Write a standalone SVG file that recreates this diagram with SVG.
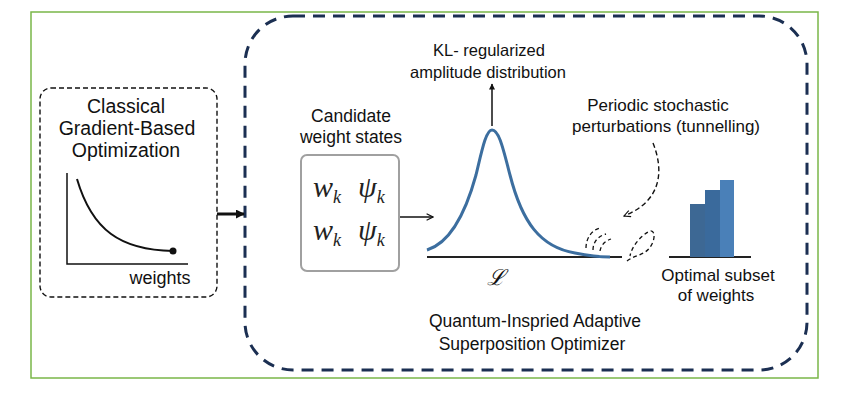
<svg xmlns="http://www.w3.org/2000/svg" width="854" height="399" viewBox="0 0 854 399">
<defs>
<style>
.t{font-family:"Liberation Sans",Arial,sans-serif;fill:#111;text-anchor:middle}
.m{font-family:"Liberation Serif","Times New Roman",serif;font-style:italic;fill:#222}
.ln{fill:none;stroke:#111;stroke-width:1.5}
.dash{fill:none;stroke:#111;stroke-width:1.3;stroke-dasharray:4 3}
</style>
<marker id="open" viewBox="0 0 10 10" refX="9" refY="5" markerWidth="8" markerHeight="8" orient="auto" markerUnits="userSpaceOnUse">
<path d="M1,1 L9,5 L1,9" fill="none" stroke="#111" stroke-width="1.4"/>
</marker>
<marker id="fill" viewBox="0 0 10 10" refX="9" refY="5" markerWidth="9" markerHeight="9" orient="auto" markerUnits="userSpaceOnUse">
<path d="M0,0 L10,5 L0,10 Z" fill="#111"/>
</marker>
<marker id="tip" viewBox="0 0 10 10" refX="9" refY="5" markerWidth="7" markerHeight="6" orient="auto" markerUnits="userSpaceOnUse">
<path d="M0,0 L10,5 L0,10 Z" fill="#111"/>
</marker>
</defs>
<rect x="0" y="0" width="854" height="399" fill="#fff"/>
<rect x="31" y="12" width="787" height="366" fill="#fff" stroke="#7ab648" stroke-width="1.5"/>

<g id="optimizer">
<rect x="245" y="16" width="562" height="354" rx="48" fill="none" stroke="#1b2f52" stroke-width="3" stroke-dasharray="12 8"/>
<text class="t" x="535" y="327" font-size="17.5">Quantum-Inspried Adaptive</text>
<text class="t" x="532" y="350" font-size="17.5">Superposition Optimizer</text>
</g>

<g id="classical">
<rect x="40" y="88" width="177" height="209" rx="11" fill="none" stroke="#111" stroke-width="1.4" stroke-dasharray="5 3"/>
<text class="t" x="126" y="113" font-size="19.5">Classical</text>
<text class="t" x="127" y="135" font-size="19.5">Gradient-Based</text>
<text class="t" x="126" y="157" font-size="19.5">Optimization</text>
<path class="ln" d="M67,173 L67,264 L188,264"/>
<path d="M77,179 C92,230 120,250 173,251" fill="none" stroke="#111" stroke-width="2"/>
<circle cx="173" cy="251" r="3.5" fill="#111"/>
<text class="t" x="160" y="284" font-size="18">weights</text>
</g>

<g id="candidates">
<text class="t" x="351" y="122" font-size="17.5">Candidate</text>
<text class="t" x="351" y="143" font-size="17.5">weight states</text>
<rect x="301" y="155" width="98" height="116" rx="6" fill="#fff" stroke="#a0a0a0" stroke-width="2"/>
<text class="m" x="313" y="197" font-size="30">w<tspan font-size="18" dy="6">k</tspan></text>
<text class="m" x="358" y="197" font-size="30">ψ<tspan font-size="18" dy="6">k</tspan></text>
<text class="m" x="313" y="240" font-size="30">w<tspan font-size="18" dy="6">k</tspan></text>
<text class="m" x="358" y="240" font-size="30">ψ<tspan font-size="18" dy="6">k</tspan></text>
</g>

<g id="distribution">
<text class="t" x="489" y="56" font-size="16.5">KL- regularized</text>
<text class="t" x="488" y="78" font-size="16.5">amplitude distribution</text>
<line x1="427" y1="257" x2="622" y2="257" stroke="#222" stroke-width="2"/>
<path d="M427,250 C450,243 465,215 476,175 C482,150 486,130 492,130 C499,130 503,148 510,175 C522,222 540,247 575,253 C590,256 600,257 610,257" fill="none" stroke="#3c6e9f" stroke-width="3"/>
<text x="496" y="285" font-size="22" font-family="'DejaVu Serif',serif" font-style="italic" fill="#111" text-anchor="middle">ℒ</text>
</g>

<g id="perturbations">
<text class="t" x="658" y="111" font-size="17">Periodic stochastic</text>
<text class="t" x="666" y="132" font-size="17">perturbations (tunnelling)</text>
<path class="dash" d="M586,248 C586,238 592,230 600,228"/>
<path class="dash" d="M593,250 C593,242 598,236 606,234"/>
<path class="dash" d="M600,251 C601,245 605,241 611,239"/>
<path class="dash" d="M627,261 C636,254 646,256 652,244 C656,236 654,228 648,232 C640,237 632,246 630,256"/>
</g>

<g id="subset">
<line x1="669" y1="257" x2="751" y2="257" stroke="#222" stroke-width="2"/>
<rect x="690" y="204" width="15" height="53" fill="#3d6894"/>
<rect x="705" y="190" width="15" height="67" fill="#3a6a9c"/>
<rect x="720" y="180" width="14" height="77" fill="#4a80b8"/>
<text class="t" x="718" y="281" font-size="17">Optimal subset</text>
<text class="t" x="716" y="301" font-size="17">of weights</text>
</g>

<g id="connectors">
<line x1="217" y1="214" x2="244" y2="214" stroke="#111" stroke-width="3" marker-end="url(#fill)"/>
<line x1="400" y1="217" x2="433" y2="217" stroke="#111" stroke-width="1.5" marker-end="url(#open)"/>
<line x1="492" y1="126" x2="492" y2="84" stroke="#111" stroke-width="1.5" marker-end="url(#tip)"/>
<path d="M653,143 C663,168 664,200 624,216" fill="none" stroke="#111" stroke-width="1.4" stroke-dasharray="5 3" marker-end="url(#open)"/>
</g>
</svg>
